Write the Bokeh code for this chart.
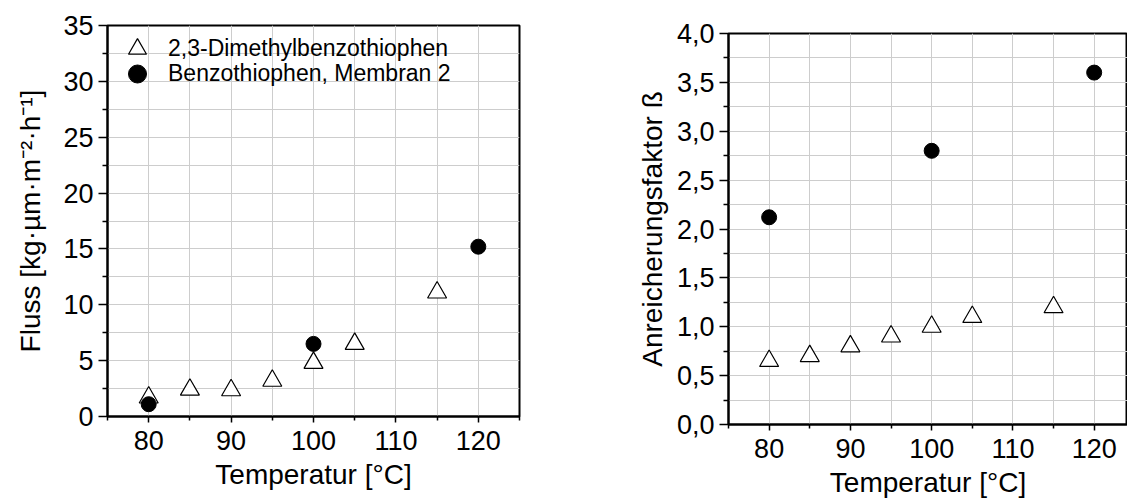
from bokeh.plotting import figure
from bokeh.layouts import row
from bokeh.models import FixedTicker, Legend, LegendItem, Range1d
from bokeh.embed import file_html
from bokeh.resources import INLINE

# ---------------- data ----------------
temp_dmbt = [80, 85, 90, 95, 100, 105, 115]
flux_dmbt = [1.7, 2.4, 2.35, 3.2, 4.8, 6.5, 11.1]
beta_dmbt = [0.65, 0.70, 0.80, 0.90, 1.00, 1.10, 1.20]

temp_bt = [80, 100, 120]
flux_bt = [1.1, 6.5, 15.2]
beta_bt = [2.12, 2.80, 3.60]

series_names = ["2,3-Dimethylbenzothiophen", "Benzothiophen, Membran 2"]

x_ticks = [80, 90, 100, 110, 120]
x_tick_labels = ["80", "90", "100", "110", "120"]
x_minor = [75, 85, 95, 105, 115, 125]

flux_ticks = [0, 5, 10, 15, 20, 25, 30, 35]
flux_tick_labels = ["0", "5", "10", "15", "20", "25", "30", "35"]
flux_minor = [2.5, 7.5, 12.5, 17.5, 22.5, 27.5, 32.5]

beta_ticks = [0.0, 0.5, 1.0, 1.5, 2.0, 2.5, 3.0, 3.5, 4.0]
beta_tick_labels = ["0,0", "0,5", "1,0", "1,5", "2,0", "2,5", "3,0", "3,5", "4,0"]
beta_minor = [0.25, 0.75, 1.25, 1.75, 2.25, 2.75, 3.25, 3.75]

x_title = "Temperatur [°C]"
flux_title = "Fluss [kg·µm·m⁻²·h⁻¹]"
beta_title = "Anreicherungsfaktor ß"

FONT = "Liberation Sans"
GRID = "#cdcdcd"


def style_axis(ax, ticker, labels, tick_out, minor_out, label_standoff, title_standoff, title):
    ax.ticker = ticker
    ax.major_label_overrides = labels
    ax.axis_line_color = "black"
    ax.axis_line_width = 2
    ax.major_tick_line_color = "black"
    ax.major_tick_line_width = 1.5
    ax.minor_tick_line_color = "black"
    ax.minor_tick_line_width = 1.5
    ax.major_tick_in = 0
    ax.major_tick_out = tick_out
    ax.minor_tick_in = 0
    ax.minor_tick_out = minor_out
    ax.major_label_text_font = FONT
    ax.major_label_text_font_size = "27px"
    ax.major_label_text_color = "black"
    ax.major_label_standoff = label_standoff
    ax.axis_label = title
    ax.axis_label_text_font = FONT
    ax.axis_label_text_font_size = "28px"
    ax.axis_label_text_font_style = "normal"
    ax.axis_label_text_color = "black"
    ax.axis_label_standoff = title_standoff


def panel(width, mbl, mbr, x_end, y_end, yt, ylab, ymin, ytitle,
          yvals_tri, yvals_circ, legend, y_title_std):
    p = figure(width=width, height=492,
               x_range=Range1d(75, x_end), y_range=Range1d(0, y_end),
               output_backend="svg", toolbar_location=None,
               min_border_left=mbl, min_border_right=mbr,
               min_border_top=25, min_border_bottom=76)
    p.outline_line_color = "black"
    p.outline_line_width = 2
    p.background_fill_color = "white"
    p.border_fill_color = "white"

    xt = FixedTicker(ticks=x_ticks, minor_ticks=x_minor)
    ytk = FixedTicker(ticks=yt, minor_ticks=ymin)

    style_axis(p.xaxis[0], xt, dict(zip(x_ticks, x_tick_labels)), 6, 4, 8, 6, x_title)
    style_axis(p.yaxis[0], ytk, dict(zip(yt, ylab)), 9, 5, 5, y_title_std, ytitle)

    p.xgrid.ticker = xt
    p.ygrid.ticker = ytk
    for g in (p.xgrid[0], p.ygrid[0]):
        g.grid_line_color = GRID
        g.grid_line_width = 1
        g.minor_grid_line_color = GRID
        g.minor_grid_line_width = 1

    r_tri = p.scatter(temp_dmbt, yvals_tri, marker="triangle", size=19,
                      fill_color="white", line_color="black", line_width=1.2)
    r_circ = p.scatter(temp_bt, yvals_circ, marker="circle", size=15,
                       fill_color="black", line_color="black", line_width=1)

    if legend:
        common = dict(margin=0, padding=0, spacing=0,
                      glyph_width=60, glyph_height=45, label_height=45,
                      label_standoff=1, background_fill_alpha=0,
                      border_line_alpha=0, label_text_font=FONT,
                      label_text_font_size="23px", label_text_color="black")
        lg1 = Legend(items=[LegendItem(label=series_names[0], renderers=[r_tri])],
                     location=(0, 345), **common)
        lg2 = Legend(items=[LegendItem(label=series_names[1], renderers=[r_circ])],
                     location=(0, 320), **common)
        p.add_layout(lg1)
        p.add_layout(lg2)
    return p


p1 = panel(560, 107, 41, 125, 35, flux_ticks, flux_tick_labels, flux_minor,
           flux_title, flux_dmbt, flux_bt, True, 14)
p2 = panel(567, 168, 0, 124.1, 4, beta_ticks, beta_tick_labels, beta_minor,
           beta_title, beta_dmbt, beta_bt, False, 6)
p2.margin = (8, 0, 0, 0)

layout = row(p1, p2)
open("out.html", "w").write(file_html(layout, INLINE))
